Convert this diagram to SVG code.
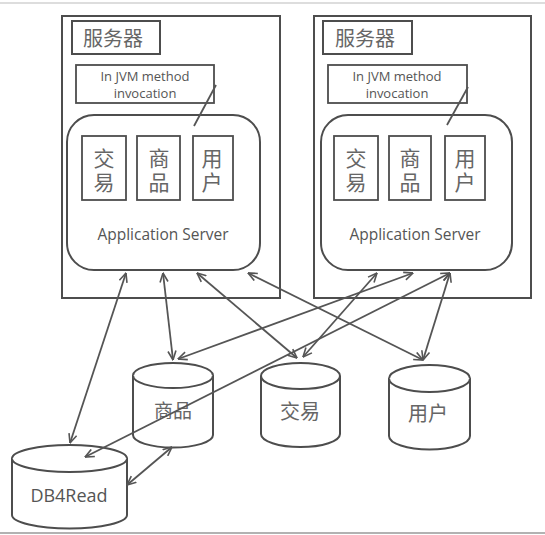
<svg xmlns="http://www.w3.org/2000/svg" width="545" height="535" viewBox="0 0 545 535">
<style>
.box{fill:#fff;stroke:#4d4d4d;stroke-width:2}
.thin{fill:#fff;stroke:#4d4d4d;stroke-width:1.8}
.cyl{fill:#fff;stroke:#4d4d4d;stroke-width:2}
.conn{fill:none;stroke:#555;stroke-width:1.8}
.plain{fill:none;stroke:#555;stroke-width:1.8}
.cjk{font-family:"Noto Sans CJK SC","Noto Sans CJK JP",sans-serif;fill:#666;text-anchor:middle}
.vert{font-family:"Noto Sans CJK SC","Noto Sans CJK JP",sans-serif;fill:#666;text-anchor:middle;writing-mode:vertical-rl;font-size:21px;letter-spacing:3px}
.lat{font-family:"Open Sans","Liberation Sans",sans-serif;fill:#555;text-anchor:middle}
</style>
<defs>
<marker id="ah" viewBox="0 0 10 10" refX="9.5" refY="5" markerWidth="10" markerHeight="10" markerUnits="userSpaceOnUse" orient="auto-start-reverse">
<path d="M0.5,1 L9.5,5 L0.5,9" fill="none" stroke="#555" stroke-width="1.6"/>
</marker>
</defs>
<rect width="545" height="535" fill="#fff"/>
<line x1="0" y1="3" x2="545" y2="3" stroke="#bbb" stroke-width="1.2"/>
<line x1="0" y1="533" x2="545" y2="533" stroke="#999" stroke-width="1.5"/>

<g id="server-left">
<rect class="box" x="62" y="16" width="218" height="282"/>
<rect class="box" x="72" y="21" width="88" height="33"/>
<text class="cjk" x="113" y="46" font-size="20" fill="#555">服务器</text>
<rect class="thin" x="76" y="65" width="138" height="38"/>
<text class="lat" x="145" y="81" font-size="13">In JVM method</text>
<text class="lat" x="145" y="98" font-size="13">invocation</text>
<rect class="box" x="67" y="115" width="193" height="155" rx="27" ry="27"/>
<rect class="thin" x="82" y="136" width="44" height="64"/>
<rect class="thin" x="137" y="136" width="43" height="64"/>
<rect class="thin" x="193" y="136" width="40" height="64"/>
<text class="vert" x="104" y="172">交易</text>
<text class="vert" x="159" y="172">商品</text>
<text class="vert" x="212" y="172">用户</text>
<text class="lat" x="163" y="240" font-size="15.5">Application Server</text>
<line class="plain" x1="194" y1="126" x2="216" y2="85"/>
</g>

<g id="server-right">
<rect class="box" x="314" y="16" width="217" height="282"/>
<rect class="box" x="323" y="21" width="89" height="33"/>
<text class="cjk" x="365" y="46" font-size="20" fill="#555">服务器</text>
<rect class="thin" x="328" y="65" width="139" height="38"/>
<text class="lat" x="397" y="81" font-size="13">In JVM method</text>
<text class="lat" x="397" y="98" font-size="13">invocation</text>
<rect class="box" x="321" y="115" width="191" height="155" rx="27" ry="27"/>
<rect class="thin" x="334" y="136" width="44" height="64"/>
<rect class="thin" x="389" y="136" width="42" height="64"/>
<rect class="thin" x="445" y="136" width="40" height="64"/>
<text class="vert" x="356" y="172">交易</text>
<text class="vert" x="410" y="172">商品</text>
<text class="vert" x="465" y="172">用户</text>
<text class="lat" x="415" y="240" font-size="15.5">Application Server</text>
<line class="plain" x1="447" y1="125" x2="468" y2="87"/>
</g>

<g id="db-goods">
<path class="cyl" d="M133,375.5 A40,12.5 0 0 1 213,375.5 L213,435 A40,12.5 0 0 1 133,435 Z"/>
<path class="cyl" fill="none" d="M133,375.5 A40,12.5 0 0 0 213,375.5"/>
<text class="cjk" x="173" y="418" font-size="19" fill="#777">商品</text>
</g>
<g id="db-trade">
<path class="cyl" d="M261,376 A39.5,13 0 0 1 340,376 L340,434 A39.5,13 0 0 1 261,434 Z"/>
<path class="cyl" fill="none" d="M261,376 A39.5,13 0 0 0 340,376"/>
<text class="cjk" x="300" y="419" font-size="20" fill="#777">交易</text>
</g>
<g id="db-user">
<path class="cyl" d="M389,378.5 A40.5,13.5 0 0 1 470,378.5 L470,436 A40.5,13.5 0 0 1 389,436 Z"/>
<path class="cyl" fill="none" d="M389,378.5 A40.5,13.5 0 0 0 470,378.5"/>
<text class="cjk" x="428" y="421" font-size="20" fill="#777">用户</text>
</g>
<g id="db4read">
<path class="cyl" d="M12,458.5 A57.5,13.5 0 0 1 127,458.5 L127,515 A57.5,13.5 0 0 1 12,515 Z"/>
<path class="cyl" fill="none" d="M12,458.5 A57.5,13.5 0 0 0 127,458.5"/>
<text class="lat" x="69" y="502" font-size="18" fill="#555">DB4Read</text>
</g>

<g id="connectors">
<line class="conn" x1="126" y1="273" x2="70" y2="443" marker-start="url(#ah)" marker-end="url(#ah)"/>
<line class="conn" x1="163" y1="273" x2="173" y2="360" marker-start="url(#ah)" marker-end="url(#ah)"/>
<line class="conn" x1="197" y1="273" x2="297" y2="358" marker-start="url(#ah)" marker-end="url(#ah)"/>
<line class="conn" x1="248" y1="273" x2="423" y2="360" marker-start="url(#ah)" marker-end="url(#ah)"/>
<line class="conn" x1="377" y1="273" x2="303" y2="357" marker-start="url(#ah)" marker-end="url(#ah)"/>
<line class="conn" x1="413" y1="273" x2="178" y2="359" marker-start="url(#ah)" marker-end="url(#ah)"/>
<line class="conn" x1="450" y1="273" x2="85" y2="457" marker-start="url(#ah)" marker-end="url(#ah)"/>
<line class="conn" x1="450" y1="273" x2="423" y2="360" marker-start="url(#ah)" marker-end="url(#ah)"/>
<line class="conn" x1="127" y1="485" x2="172" y2="447" marker-start="url(#ah)" marker-end="url(#ah)"/>
</g>
</svg>
